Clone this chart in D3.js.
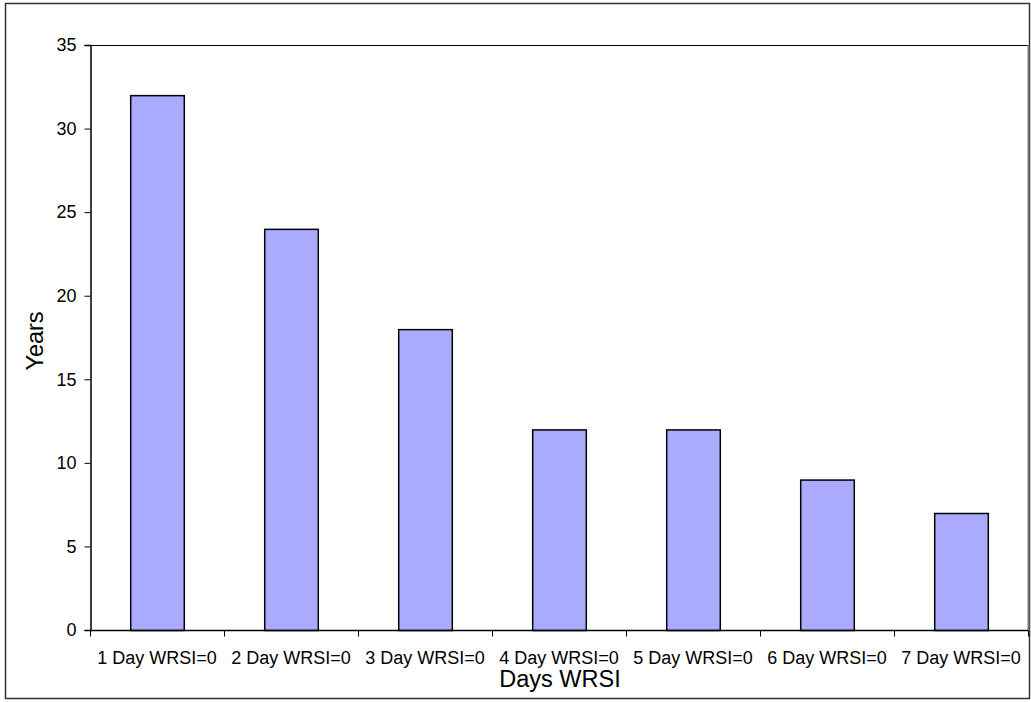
<!DOCTYPE html>
<html><head><meta charset="utf-8">
<script src="https://cdn.jsdelivr.net/npm/d3@7"></script>
<style>body{margin:0;background:#fff}svg{display:block}text{font-family:Arial,"Liberation Sans",sans-serif;fill:#000}</style>
</head><body>
<svg id="c" width="1031" height="702"></svg>
<script>
const categories = ["1 Day WRSI=0","2 Day WRSI=0","3 Day WRSI=0","4 Day WRSI=0","5 Day WRSI=0","6 Day WRSI=0","7 Day WRSI=0"];
const years = [32,24,18,12,12,9,7];
const yTicks = [0,5,10,15,20,25,30,35];

const svg = d3.select("#c");
const L=90, R=1028, T=45, B=630;
svg.append("rect").attr("x",5.5).attr("y",3.5).attr("width",1024).attr("height",695)
  .attr("fill","#fff").attr("stroke","#333").attr("stroke-width",1.5);

const x = d3.scaleBand().domain(categories).range([L,R]).paddingInner(0.6).paddingOuter(0.3);
const xb = d3.scaleBand().domain(categories).range([L,R]);
const y = d3.scaleLinear().domain([0,35]).range([B,T]);

// plot frame
svg.append("line").attr("x1",L).attr("x2",1030).attr("y1",T+0.5).attr("y2",T+0.5).attr("stroke","#000");
svg.append("line").attr("x1",R+0.5).attr("x2",R+0.5).attr("y1",T).attr("y2",B).attr("stroke","#777").attr("stroke-width",2);

svg.selectAll("rect.bar").data(years).join("rect").attr("class","bar")
  .attr("x",(d,i)=>x(categories[i])+0.5).attr("width",x.bandwidth())
  .attr("y",d=>y(d)+0.5).attr("height",d=>B-y(d))
  .attr("fill","#aaaaff").attr("stroke","#000").attr("stroke-width",1.5);

// y axis
const ya = svg.append("g").attr("transform",`translate(${L+0.5},0)`)
  .call(d3.axisLeft(y).tickValues(yTicks).tickSize(6).tickPadding(8));
ya.select(".domain").attr("stroke","#000").attr("stroke-width",1.5);
ya.selectAll("line").attr("stroke","#000");
ya.selectAll("text").attr("font-size",18).attr("font-family","Arial, Liberation Sans, sans-serif");

// x axis
const xa = svg.append("g").attr("transform",`translate(0,${B+0.5})`);
xa.append("line").attr("x1",L).attr("x2",R).attr("stroke","#000").attr("stroke-width",1.5);
xa.selectAll("line.t").data(categories.concat(["end"])).join("line").attr("class","t")
  .attr("x1",(d,i)=>i<categories.length?xb(d)+0.5:R+0.5).attr("x2",(d,i)=>i<categories.length?xb(d)+0.5:R+0.5)
  .attr("y1",0).attr("y2",6).attr("stroke","#000");
xa.selectAll("text").data(categories).join("text")
  .attr("x",d=>xb(d)+xb.bandwidth()/2).attr("y",33).attr("text-anchor","middle")
  .attr("font-size",18).text(d=>d);

svg.append("text").attr("x",(L+R)/2+1).attr("y",687).attr("text-anchor","middle").attr("font-size",23.5).text("Days WRSI");
svg.append("text").attr("transform",`translate(43,341) rotate(-90)`).attr("text-anchor","middle").attr("font-size",23.5).text("Years");
</script>
</body></html>
